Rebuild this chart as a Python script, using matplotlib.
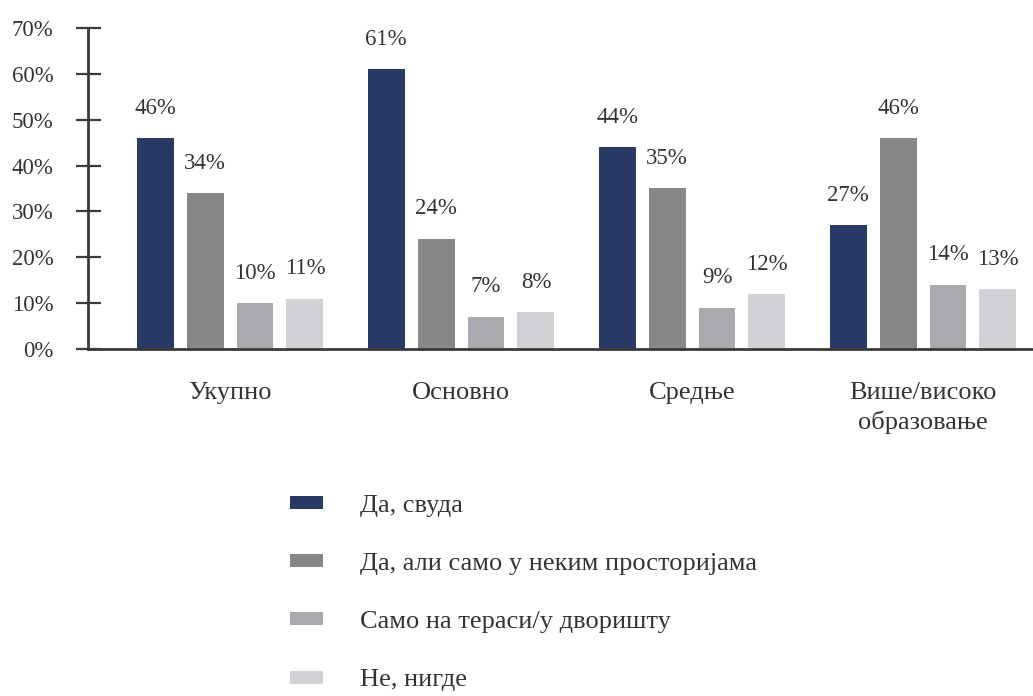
import numpy as np
import matplotlib
matplotlib.use('Agg')
import matplotlib.pyplot as plt

plt.rcParams['font.family'] = ['Liberation Serif', 'DejaVu Serif']

# Data
groups = ['Укупно', 'Основно', 'Средње', 'Више/високо\nобразовање']
series = ['Да, свуда', 'Да, али само у неким просторијама',
          'Само на тераси/у дворишту', 'Не, нигде']
svuda = [46, 61, 44, 27]
neke_prostorije = [34, 24, 35, 46]
terasa = [10, 7, 9, 14]
nigde = [11, 8, 12, 13]
yticks = [0, 10, 20, 30, 40, 50, 60, 70]

colors = ['#293a66', '#868789', '#a9aaad', '#d1d2d6']
txt = '#333333'
axcol = '#3a3a3a'

fig = plt.figure(figsize=(10.33, 6.96), dpi=100)
ax = fig.add_axes([0.0852, 0.4986, 0.9148, 0.4612])

x = np.arange(len(groups))
step = 0.216
width = 0.16
for i, (vals, lab) in enumerate(zip([svuda, neke_prostorije, terasa, nigde], series)):
    bars = ax.bar(x + (i - 1.5) * step, vals, width, color=colors[i], label=lab)
    ax.bar_label(bars, labels=[f'{v}%' for v in vals], padding=14,
                 fontsize=16.5, color=txt)

ax.set_xlim(-0.615, 3.476)
ax.set_ylim(0, 70)
ax.set_yticks(yticks)
ax.set_yticklabels([f'{t}%' for t in yticks], fontsize=16.5, color=txt)
ax.set_xticks(x)
ax.set_xticklabels(groups, fontsize=19, color=txt, linespacing=1.35)
ax.tick_params(axis='y', direction='inout', length=18, width=1.6, color=axcol, pad=16)
ax.tick_params(axis='x', length=0, pad=24)

for s in ['top', 'right']:
    ax.spines[s].set_visible(False)
for s in ['left', 'bottom']:
    ax.spines[s].set_color(axcol)
    ax.spines[s].set_linewidth(2)

fig.legend(loc='upper left', bbox_to_anchor=(290 / 1033, 1 - 495 / 696),
           frameon=False, fontsize=19, handlelength=1.25, handleheight=0.38,
           handletextpad=1.4, labelspacing=1.37, borderpad=0, borderaxespad=0,
           labelcolor=txt)

fig.savefig('out.png', dpi=100)
